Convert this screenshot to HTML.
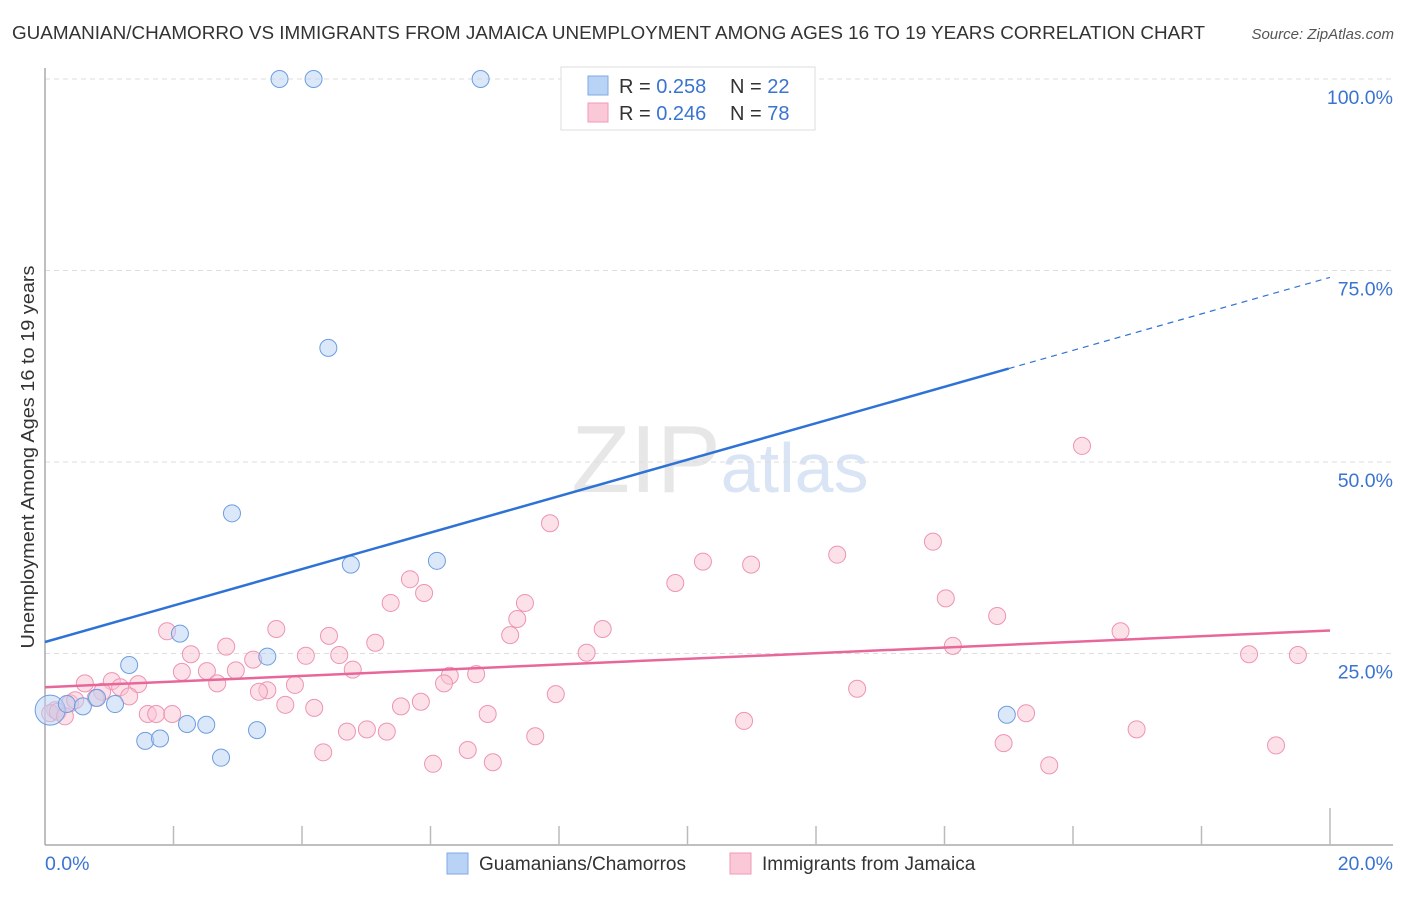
<!DOCTYPE html>
<html><head><meta charset="utf-8"><style>
body{margin:0;background:#fff;}
svg text{font-family:"Liberation Sans",sans-serif;}
</style></head><body>
<svg id="chart" width="1406" height="892" xmlns="http://www.w3.org/2000/svg">
<text x="12" y="39" font-size="18" fill="#333" textLength="1193" lengthAdjust="spacingAndGlyphs">GUAMANIAN/CHAMORRO VS IMMIGRANTS FROM JAMAICA UNEMPLOYMENT AMONG AGES 16 TO 19 YEARS CORRELATION CHART</text>
<text x="1394" y="39" font-size="15" fill="#555" text-anchor="end" font-style="italic">Source: ZipAtlas.com</text>
<text x="720" y="492" font-size="96" text-anchor="middle" fill="#ddd" font-family="Liberation Serif" opacity="0.7">ZIP<tspan fill="#c9d9f0" font-family="Liberation Sans" font-size="70">atlas</tspan></text>
<g id="grid"></g>
<g id="axes"></g>
<g id="marks"></g>
<text transform="translate(34,457) rotate(-90)" font-size="18" fill="#333" text-anchor="middle" textLength="383" lengthAdjust="spacingAndGlyphs">Unemployment Among Ages 16 to 19 years</text>
<g>
<rect x="561" y="67" width="254" height="63" fill="#fff" stroke="#ddd"/>
<rect x="588" y="76" width="20" height="19" fill="#b9d3f6" stroke="#7ea9e3"/>
<rect x="588" y="103" width="20" height="19" fill="#fbc8d8" stroke="#f09ab5"/>
<text x="619" y="93" font-size="20" fill="#333">R = <tspan fill="#3a74d0">0.258</tspan></text>
<text x="730" y="93" font-size="20" fill="#333">N = <tspan fill="#3a74d0">22</tspan></text>
<text x="619" y="120" font-size="20" fill="#333">R = <tspan fill="#3a74d0">0.246</tspan></text>
<text x="730" y="120" font-size="20" fill="#333">N = <tspan fill="#3a74d0">78</tspan></text>
</g>
<g>
<rect x="447" y="853" width="21" height="21" fill="#b9d3f6" stroke="#7ea9e3"/>
<text x="479" y="870" font-size="19" fill="#333">Guamanians/Chamorros</text>
<rect x="730" y="853" width="21" height="21" fill="#fbc8d8" stroke="#f09ab5"/>
<text x="762" y="870" font-size="19" fill="#333">Immigrants from Jamaica</text>
</g>
</svg>
<script>
const xTicks=[0,2,4,6,8,10,12,14,16,18,20];
const yTicks=[25,50,75,100];
const blueX=[3.65,4.18,6.78,4.41,2.91,4.76,6.10,2.10,3.46,1.31,0.08,0.34,0.59,0.81,1.09,2.21,2.51,3.30,1.56,1.79,2.74,14.97];
const blueY=[100,100,100,64.9,43.3,36.6,37.1,27.6,24.6,23.5,17.6,18.4,18.1,19.2,18.4,15.8,15.7,15.0,13.6,13.9,11.4,17.0];
const pinkX=[16.14,7.86,13.82,12.33,10.24,10.99,5.68,9.81,5.90,5.38,7.47,14.02,7.35,14.82,1.90,3.60,8.68,16.74,4.42,5.14,7.24,2.82,14.13,8.43,2.27,4.06,4.58,3.24,18.74,19.50,2.13,2.97,2.52,4.79,6.30,6.71,0.62,1.04,1.45,2.68,3.46,3.33,3.89,6.21,1.17,0.89,1.31,12.64,7.95,0.79,0.39,0.16,0.08,3.74,4.19,5.85,5.54,1.60,1.73,1.98,6.89,15.27,10.88,4.70,5.01,5.32,16.99,7.63,4.33,6.58,14.92,19.16,6.04,6.97,15.63,0.20,0.47,0.31];
const pinkY=[52.1,42.0,39.6,37.9,37.0,36.6,34.7,34.2,32.9,31.6,31.6,32.2,29.5,29.9,27.9,28.2,28.2,27.9,27.3,26.4,27.4,25.9,26.0,25.1,24.9,24.7,24.8,24.2,24.9,24.8,22.6,22.8,22.7,22.9,22.1,22.3,21.1,21.4,21.0,21.1,20.2,20.0,20.9,21.1,20.6,20.0,19.4,20.4,19.7,19.2,18.5,17.6,17.2,18.3,17.9,18.7,18.1,17.1,17.1,17.1,17.1,17.2,16.2,14.8,15.1,14.8,15.1,14.2,12.1,12.4,13.3,13.0,10.6,10.8,10.4,17.4,18.9,16.8];
const trendBlue=[26.5,62.2]; // y at x=0 and x=15 (%)
const trendPink=[20.6,28.0]; // y at x=0 and x=20
const NS='http://www.w3.org/2000/svg';
const xs=v=>45+v/20*1285;
const ys=v=>845-v/100*766;
function mk(tag,attrs,parent){const e=document.createElementNS(NS,tag);for(const k in attrs)e.setAttribute(k,attrs[k]);parent.appendChild(e);return e;}
const grid=document.getElementById('grid'),axes=document.getElementById('axes'),marks=document.getElementById('marks');
yTicks.forEach(t=>{
 const l=mk('line',{x1:45,x2:1393,y1:ys(t),y2:ys(t),stroke:'#ddd','stroke-dasharray':'5,4'},grid);
 
 
 const tx=mk('text',{x:1393,y:ys(t)+25,'font-size':19.5,fill:'#3a74d0','text-anchor':'end'},grid);
 tx.textContent=t.toFixed(1)+'%';
 
 
});
const ya=mk('line',{x1:45,x2:45,y1:68,y2:845,stroke:'#aaa','stroke-width':1.5},axes);


const xa=mk('line',{x1:45,x2:1393,y1:845,y2:845,stroke:'#aaa','stroke-width':1.5},axes);


xTicks.forEach((t,i)=>{
 if(i===0)return;
 const tk=mk('line',{x1:xs(t),x2:xs(t),y1:i===xTicks.length-1?808:826,y2:845,stroke:'#bbb','stroke-width':1.5},axes);
 
 
});
[[0,'start',45],[20,'end',1393]].forEach(([v,a,px])=>{
 const tx=mk('text',{x:px,y:870,'font-size':19.5,fill:'#3a74d0','text-anchor':a},axes);
 tx.textContent=v.toFixed(1)+'%';
 
 
});
function pts(X,Y,fill,stroke,name){
 X.forEach((x,i)=>{
  const c=mk('circle',{cx:xs(x),cy:ys(Y[i]),r:(i===10&&name==='blue-point')?15:8.5,fill:fill,stroke:stroke,'stroke-width':1,'fill-opacity':0.5},marks);
  
  
 });
}
pts(pinkX,pinkY,'#f9c3d4','#ee94b3','pink-point');
pts(blueX,blueY,'#b8d1f3','#6d9de0','blue-point');
const bAt=x=>trendBlue[0]+(trendBlue[1]-trendBlue[0])*x/15;
const tb=mk('line',{x1:xs(0),y1:ys(bAt(0)),x2:xs(15),y2:ys(bAt(15)),stroke:'#2f72d6','stroke-width':2.5},marks);


const tbd=mk('line',{x1:xs(15),y1:ys(bAt(15)),x2:xs(20),y2:ys(bAt(20)),stroke:'#2f72d6','stroke-width':1.2,'stroke-dasharray':'6,5'},marks);


const tp=mk('line',{x1:xs(0),y1:ys(trendPink[0]),x2:xs(20),y2:ys(trendPink[1]),stroke:'#e8679a','stroke-width':2.5},marks);


</script>
</body></html>
